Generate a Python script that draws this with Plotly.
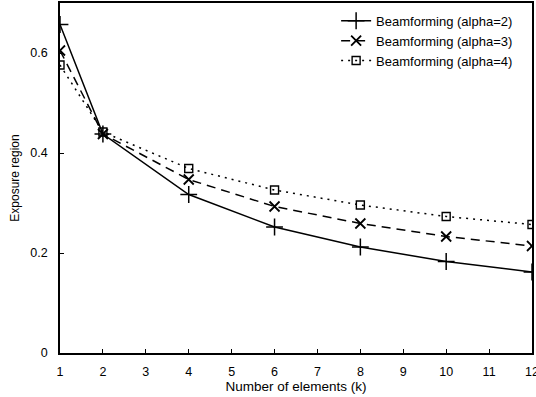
import plotly.graph_objects as go

k = [1, 2, 4, 6, 8, 10, 12]
alpha2 = [0.657, 0.438, 0.317, 0.252, 0.212, 0.183, 0.162]
alpha3 = [0.605, 0.438, 0.347, 0.293, 0.259, 0.233, 0.214]
alpha4 = [0.576, 0.442, 0.369, 0.326, 0.296, 0.273, 0.257]
names = ["Beamforming (alpha=2)", "Beamforming (alpha=3)", "Beamforming (alpha=4)"]
x_ticks = list(range(1, 13))
y_ticks = [0, 0.2, 0.4, 0.6]
y_tick_text = ["0", "0.2", "0.4", "0.6"]

FONT = "Liberation Sans, Arial, sans-serif"

fig = go.Figure()
fig.add_trace(go.Scatter(
    x=k, y=alpha2, name=names[0], mode="lines+markers",
    line=dict(color="black", width=1.5, dash="solid"),
    marker=dict(symbol="cross-thin-open", size=12, line=dict(color="black", width=1.5)),
))
fig.add_trace(go.Scatter(
    x=k, y=alpha3, name=names[1], mode="lines+markers",
    line=dict(color="black", width=1.5, dash="9px,6px"),
    marker=dict(symbol="x-thin-open", size=10, line=dict(color="black", width=1.8)),
))
fig.add_trace(go.Scatter(
    x=k, y=alpha4, name=names[2], mode="lines+markers",
    line=dict(color="black", width=1.5, dash="2px,5px"),
    marker=dict(symbol="square-open", size=8, color="black", line=dict(color="black", width=1.4)),
))

fig.update_layout(
    width=536, height=397,
    margin=dict(l=60, r=4, t=3, b=44, autoexpand=False),
    paper_bgcolor="white", plot_bgcolor="white",
    font=dict(family=FONT, size=12, color="black"),
    showlegend=True,
    legend=dict(
        x=0.585, y=0.992, xanchor="left", yanchor="top",
        bgcolor="rgba(0,0,0,0)", borderwidth=0,
        font=dict(family=FONT, size=13, color="black"),
        tracegroupgap=0,
    ),
)
fig.update_xaxes(
    range=[1, 12], tickmode="array", tickvals=x_ticks,
    ticks="inside", ticklen=4, tickwidth=1, tickcolor="black",
    showline=True, linecolor="black", linewidth=1.5, mirror=True,
    showgrid=False, zeroline=False, automargin=False,
    ticklabeloverflow="allow", ticklabelstandoff=6,
    title=dict(text="Number of elements (k)", standoff=4, font=dict(size=13.5)),
    tickfont=dict(size=12.5),
)
fig.update_yaxes(
    range=[0, 0.7], tickmode="array", tickvals=y_ticks, ticktext=y_tick_text,
    ticks="inside", ticklen=4, tickwidth=1, tickcolor="black",
    showline=True, linecolor="black", linewidth=1.5, mirror=True,
    showgrid=False, zeroline=False, automargin=False,
    ticklabelstandoff=8,
    title=dict(text="Exposure region", standoff=8, font=dict(size=12)),
    tickfont=dict(size=12.5),
)

fig.write_html("out.html")
